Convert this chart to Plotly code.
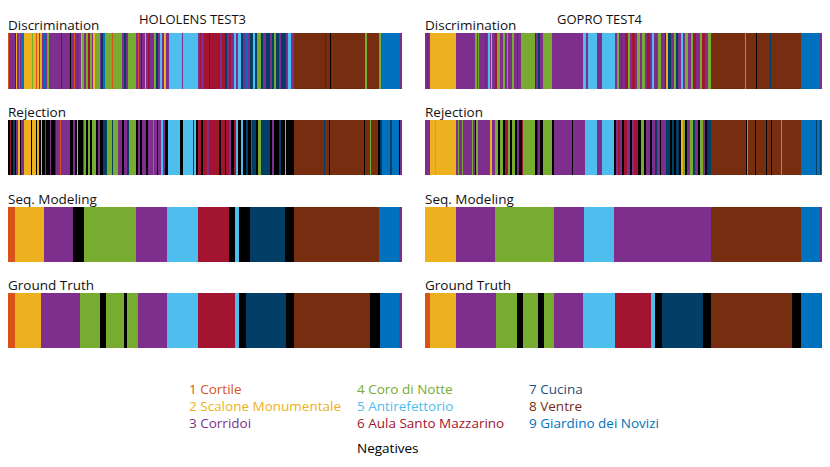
import plotly.graph_objects as go

# class id -> name ; 0 = negatives
class_names = ["Negatives", "1 Cortile", "2 Scalone Monumentale", "3 Corridoi",
               "4 Coro di Notte", "5 Antirefettorio", "6 Aula Santo Mazzarino",
               "7 Cucina", "8 Ventre", "9 Giardino dei Novizi"]
class_colors = ["#000000", "#D95319", "#EDB120", "#7E2F8E", "#77AC30",
                "#4DBEEE", "#A2142F", "#023E66", "#772D0F", "#0072BD"]
text_colors = ["#000000", "#D95319", "#EDB120", "#7E2F8E", "#77AC30",
               "#4DBEEE", "#A2142F", "#1F4E79", "#772D0F", "#0072BD"]

row_names = ["Discrimination", "Rejection", "Seq. Modeling", "Ground Truth"]
test_names = ["HOLOLENS TEST3", "GOPRO TEST4"]

# each strip: (end frame, class) runs, starting at frame 0
hl_disc = [(4,1),(8,3),(10,6),(20,3),(23,7),(27,2),(32,3),(35,1),(40,3),(47,9),
           (72,2),(75,4),(83,2),(87,1),(93,2),(97,3),(102,2),(108,3),(112,9),(117,3),
           (122,4),(158,3),(161,7),(185,3),(188,0),(198,3),(202,1),(207,3),(212,6),(220,3),
           (224,2),(230,4),(235,3),(242,4),(246,6),(252,4),(256,3),(262,2),(276,4),(280,3),
           (286,7),(292,9),(313,4),(316,1),(342,4),(348,3),(354,7),(360,3),(385,4),(390,3),
           (394,1),(400,3),(404,7),(412,3),(416,2),(420,3),(426,6),(440,3),(445,4),(450,7),
           (458,3),(462,5),(470,3),(475,2),(485,3),(522,5),(526,3),(570,5),(576,3),(580,6),
           (590,3),(605,6),(608,7),(638,6),(644,3),(652,6),(658,7),(665,3),(670,6),(680,3),
           (686,5),(692,3),(700,5),(708,7),(715,3),(722,9),(728,3),(736,7),(742,5),(750,7),
           (760,4),(768,7),(775,3),(788,7),(794,3),(800,7),(806,4),(814,7),(820,3),(835,7),
           (842,3),(850,5),(860,3),(952,8),(955,7),(968,8),(971,0),(1075,8),(1080,4),(1115,8),
           (1123,4),(1178,9),(1185,3)]
hl_rej = [(5,0),(10,6),(15,0),(20,7),(25,0),(30,3),(35,2),(40,0),(48,3),(70,2),
          (73,0),(83,2),(87,0),(93,2),(98,0),(102,2),(110,0),(115,3),(125,0),(130,3),
          (140,0),(145,7),(155,3),(160,1),(185,3),(195,0),(200,3),(208,0),(212,2),(225,0),
          (230,3),(236,4),(242,0),(248,4),(252,0),(265,4),(270,0),(278,3),(285,0),(298,7),
          (313,4),(317,7),(330,4),(342,3),(350,0),(358,3),(365,7),(385,4),(390,0),(398,3),
          (402,0),(415,3),(420,0),(435,3),(440,1),(447,3),(452,0),(460,3),(465,5),(472,3),
          (480,0),(517,5),(525,0),(555,5),(560,7),(565,5),(572,0),(580,6),(585,0),(600,6),
          (605,3),(635,6),(642,0),(652,6),(657,0),(665,6),(672,3),(680,0),(686,6),(692,5),
          (700,0),(706,5),(715,0),(722,7),(730,0),(735,3),(745,7),(752,0),(760,4),(788,7),
          (795,0),(800,3),(815,0),(822,7),(832,0),(835,5),(860,0),(950,8),(954,7),(965,8),
          (968,0),(1070,8),(1074,0),(1090,8),(1093,4),(1113,8),(1118,0),(1125,7),(1150,9),(1154,7),
          (1176,9),(1180,0),(1185,3)]
hl_seq = [(22,1),(108,2),(196,3),(228,0),(385,4),(478,3),(572,5),(666,6),(683,0),(694,5),
          (728,0),(833,7),(860,0),(1117,8),(1176,9),(1185,3)]
hl_gt = [(20,1),(100,2),(217,3),(276,4),(296,0),(348,4),(358,0),(390,4),(477,3),(570,5),
         (682,6),(694,5),(715,0),(837,7),(860,0),(1088,8),(1118,0),(1177,9),(1185,3)]

gp_disc = [(5,3),(10,6),(15,3),(93,2),(150,3),(155,4),(160,3),(163,4),(180,3),(183,6),
           (190,3),(194,5),(198,3),(202,2),(210,3),(215,6),(225,4),(235,3),(240,4),(245,3),
           (250,4),(260,3),(268,4),(275,3),(280,6),(288,3),(330,4),(333,7),(340,3),(345,7),
           (355,3),(380,4),(475,3),(482,5),(488,3),(515,5),(530,3),(570,5),(575,3),(582,4),
           (588,3),(592,6),(600,3),(610,6),(615,4),(622,3),(630,6),(638,3),(645,4),(652,3),
           (660,4),(668,3),(675,6),(682,3),(688,5),(700,3),(710,4),(720,3),(725,7),(730,2),
           (738,7),(748,3),(755,4),(760,7),(770,3),(775,5),(782,3),(790,4),(798,3),(805,4),
           (815,6),(825,3),(832,4),(840,6),(850,3),(858,4),(960,8),(965,4),(993,8),(996,0),
           (1035,8),(1038,7),(1128,8),(1185,9),(1195,3)]
gp_rej = [(15,3),(30,2),(33,5),(93,2),(98,3),(101,4),(110,3),(113,4),(142,3),(145,4),
          (150,3),(153,0),(158,4),(195,3),(200,2),(210,3),(220,4),(225,0),(235,4),(240,0),
          (248,6),(255,4),(260,0),(270,4),(275,0),(282,3),(290,0),(295,6),(330,4),(335,0),
          (340,7),(345,3),(355,0),(380,4),(388,0),(440,3),(443,0),(480,3),(515,5),(530,3),
          (568,5),(573,0),(580,3),(585,6),(592,3),(598,0),(605,6),(615,3),(622,0),(628,3),
          (640,6),(650,0),(658,4),(665,0),(675,3),(682,0),(690,3),(696,7),(705,3),(710,0),
          (725,3),(735,7),(742,0),(748,7),(755,0),(762,7),(768,0),(775,2),(782,4),(788,0),
          (795,3),(805,4),(812,7),(820,3),(825,0),(835,4),(840,3),(848,0),(858,7),(963,8),
          (967,0),(970,4),(992,8),(995,0),(1025,8),(1028,0),(1038,8),(1041,0),(1070,8),(1073,4),
          (1128,8),(1173,9),(1177,7),(1185,9),(1190,7),(1195,3)]
gp_seq = [(94,2),(209,3),(387,4),(477,3),(566,5),(858,3),(1128,8),(1186,9),(1195,3)]
gp_gt = [(15,1),(94,2),(212,3),(275,4),(295,0),(338,4),(356,0),(387,4),(475,3),(570,5),
         (678,6),(690,5),(712,0),(834,7),(859,0),(1101,8),(1130,0),(1189,9),(1195,3)]

strips = [[hl_disc, gp_disc], [hl_rej, gp_rej], [hl_seq, gp_seq], [hl_gt, gp_gt]]

# the page body adds an 8px margin, so the figure is drawn 8px in from the corner
OFF = 8
W, H = 830 - OFF, 467 - OFF
col_x = [(8, 402), (425, 823)]          # screen pixel spans of the two columns
row_y = [(33, 89), (120, 175), (207, 262), (293, 348)]


def px(x):
    return (x - OFF) / W


def py(y):
    return 1 - (y - OFF) / H


n = len(class_colors)
cscale = []
for i, c in enumerate(class_colors):
    cscale.append([i / n, c])
    cscale.append([(i + 1) / n, c])

fig = go.Figure()
layout = dict(width=W, height=H, margin=dict(l=0, r=0, t=0, b=0),
              paper_bgcolor="white", plot_bgcolor="white", showlegend=False)
annotations = []

k = 0
for r in range(4):
    for c in range(2):
        k += 1
        runs = strips[r][c]
        edges = [0] + [e for e, _ in runs]
        labels = [lab for _, lab in runs]
        xa = "x" if k == 1 else "x%d" % k
        ya = "y" if k == 1 else "y%d" % k
        fig.add_trace(go.Heatmap(x=edges, z=[labels], y=[0], zmin=-0.5, zmax=n - 0.5,
                                 colorscale=cscale, showscale=False, zsmooth=False,
                                 xaxis=xa, yaxis=ya, hoverinfo="skip"))
        x0, x1 = col_x[c]
        y0, y1 = row_y[r]
        layout["xaxis" if k == 1 else "xaxis%d" % k] = dict(
            domain=[max(0, px(x0)), min(1, px(x1))], range=[0, edges[-1]], visible=False,
            anchor=ya, fixedrange=True)
        layout["yaxis" if k == 1 else "yaxis%d" % k] = dict(
            domain=[py(y1), py(y0)], range=[-0.5, 0.5], visible=False,
            anchor=xa, fixedrange=True)
        annotations.append(dict(text=row_names[r], x=px(x0 - 2), y=py(y0 - 8),
                                xref="paper", yref="paper", xanchor="left", yanchor="middle",
                                showarrow=False, font=dict(size=13.5, color="#111111")))

title_x = [192, 600]
for c in range(2):
    annotations.append(dict(text=test_names[c], x=px(title_x[c]), y=1,
                            xref="paper", yref="paper", xanchor="center", yanchor="top",
                            showarrow=False, font=dict(size=13, color="#111111")))

# legend text in class colours
leg_x = [187, 355, 527]
leg_y = [389, 406, 423]
for i in range(1, 10):
    col = (i - 1) // 3
    row = (i - 1) % 3
    annotations.append(dict(text=class_names[i], x=px(leg_x[col]), y=py(leg_y[row]),
                            xref="paper", yref="paper", xanchor="left", yanchor="middle",
                            showarrow=False, font=dict(size=13.5, color=text_colors[i])))
annotations.append(dict(text=class_names[0], x=px(leg_x[1]), y=py(448),
                        xref="paper", yref="paper", xanchor="left", yanchor="middle",
                        showarrow=False, font=dict(size=13.5, color=text_colors[0])))

layout["annotations"] = annotations
layout["font"] = dict(family="Open Sans, Noto Sans, sans-serif")
fig.update_layout(**layout)

fig.write_html("out.html")
